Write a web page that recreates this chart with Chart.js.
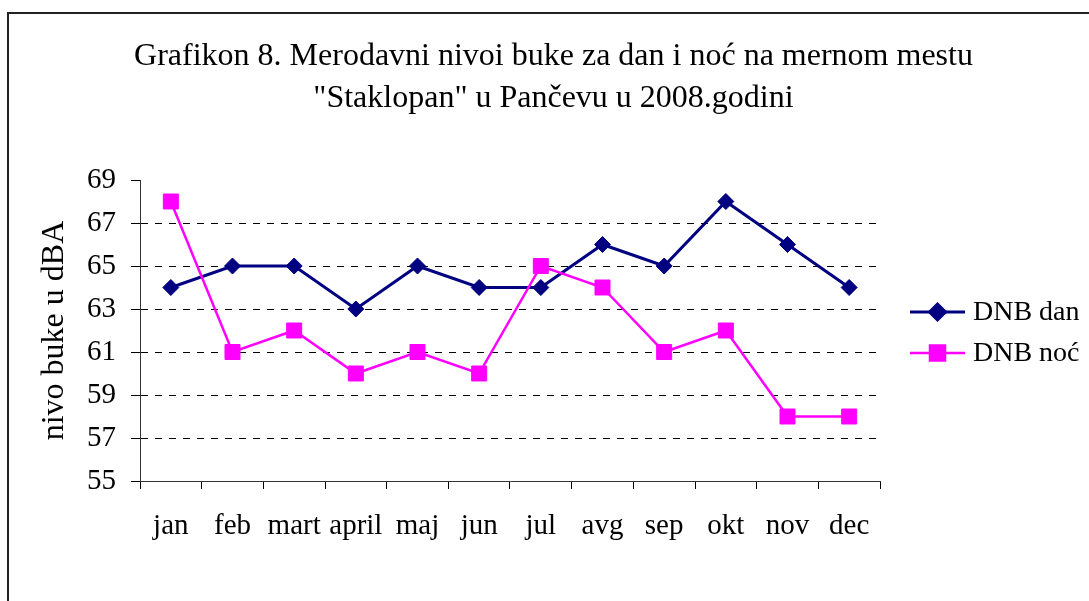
<!DOCTYPE html>
<html>
<head>
<meta charset="utf-8">
<script src="https://cdn.jsdelivr.net/npm/chart.js@4/dist/chart.umd.min.js"></script>
<style>
  html, body { margin: 0; padding: 0; background: #fff; }
  canvas { display: block; }
</style>
</head>
<body>
<canvas id="chart-canvas" width="1089" height="601"></canvas>
<script>
// data
const months = ['jan', 'feb', 'mart', 'april', 'maj', 'jun', 'jul', 'avg', 'sep', 'okt', 'nov', 'dec'];
const dnbDan = [64, 65, 65, 63, 65, 64, 64, 66, 65, 68, 66, 64];
const dnbNoc = [68, 61, 62, 60, 61, 60, 65, 64, 61, 62, 58, 58];
const titleLines = ['Grafikon 8. Merodavni nivoi buke za dan i noć na mernom mestu', '"Staklopan" u Pančevu u 2008.godini'];
const yTitle = 'nivo buke u dBA';
const yMin = 55, yMax = 69, yStep = 2;

const serif = 'Liberation Serif, Times New Roman, serif';
const navy = '#000080';
const magenta = '#FF00FF';

// outer frame, only top and left edges are visible in the picture
const framePlugin = {
    id: 'frame',
    beforeDraw(chart) {
        const ctx = chart.ctx;
        ctx.save();
        ctx.fillStyle = '#fff';
        ctx.fillRect(0, 0, chart.width, chart.height);
        ctx.strokeStyle = '#222';
        ctx.lineWidth = 2;
        ctx.beginPath();
        ctx.moveTo(8, chart.height + 2);
        ctx.lineTo(8, 13);
        ctx.lineTo(chart.width + 2, 13);
        ctx.stroke();
        ctx.restore();
    }
};

// legend with line + marker, like the office chart
const lineLegend = {
    id: 'lineLegend',
    afterDraw(chart) {
        const ctx = chart.ctx;
        const x0 = chart.chartArea.right + 30;
        const rows = [312, 353];
        ctx.save();
        ctx.font = '28px ' + serif;
        ctx.textBaseline = 'middle';
        ctx.fillStyle = '#000';
        [0, 1].forEach((i) => {
            const ds = chart.data.datasets[i];
            const y = rows[i];
            ctx.strokeStyle = ds.borderColor;
            ctx.lineWidth = ds.borderWidth;
            ctx.beginPath();
            ctx.moveTo(x0, y);
            ctx.lineTo(x0 + 55, y);
            ctx.stroke();
            Chart.helpers.drawPoint(ctx, {
                pointStyle: ds.pointStyle,
                radius: ds.pointRadius,
                borderWidth: 1
            }, x0 + 27.5, y);
            ctx.fillStyle = ds.borderColor;
            ctx.fill();
            ctx.fillStyle = '#000';
            ctx.fillText(ds.label, x0 + 63, y + 1);
        });
        ctx.restore();
    }
};

const myChart = new Chart(document.getElementById('chart-canvas'), {
    type: 'line',
    data: {
        labels: months,
        datasets: [{
            label: 'DNB dan',
            data: dnbDan,
            borderColor: navy,
            backgroundColor: navy,
            borderWidth: 3,
            pointStyle: 'rectRot',
            pointRadius: 8,
            pointBackgroundColor: navy,
            pointBorderColor: navy,
            pointBorderWidth: 1,
            tension: 0,
            order: 1,
            clip: false
        }, {
            label: 'DNB noć',
            data: dnbNoc,
            borderColor: magenta,
            backgroundColor: magenta,
            borderWidth: 2.5,
            pointStyle: 'rect',
            pointRadius: 10.6,
            pointBackgroundColor: magenta,
            pointBorderColor: magenta,
            pointBorderWidth: 1,
            tension: 0,
            order: 0,
            clip: false
        }]
    },
    options: {
        responsive: false,
        animation: false,
        layout: { padding: { left: 18, right: 0, top: 0, bottom: 0 } },
        plugins: {
            legend: { display: false },
            tooltip: { enabled: false },
            title: {
                display: true,
                text: titleLines,
                color: '#000',
                font: { family: serif, size: 32, weight: 'normal', lineHeight: '42px' },
                padding: { top: 36, bottom: 60 }
            }
        },
        scales: {
            x: {
                offset: true,
                grid: {
                    offset: true,
                    drawOnChartArea: false,
                    tickLength: 8,
                    tickColor: '#000',
                    color: '#000'
                },
                border: { display: true, color: '#333', width: 1 },
                ticks: {
                    color: '#000',
                    font: { family: serif, size: 29 },
                    padding: 20,
                    maxRotation: 0,
                    autoSkip: false
                },
                afterFit(scale) { scale.height = 120; }
            },
            y: {
                min: yMin,
                max: yMax,
                ticks: {
                    stepSize: yStep,
                    color: '#000',
                    font: { family: serif, size: 29 },
                    padding: 15
                },
                grid: {
                    color: (c) => (c.tick && (c.tick.value === yMin || c.tick.value === yMax)) ? 'rgba(0,0,0,0)' : '#000',
                    tickColor: '#000',
                    tickLength: 9,
                    lineWidth: 1
                },
                border: { display: true, color: '#333', width: 1, dash: [7, 7] },
                title: {
                    display: true,
                    text: yTitle,
                    color: '#000',
                    font: { family: serif, size: 32 },
                    padding: { top: 17, bottom: 0 }
                },
                afterFit(scale) { scale.width = 122; }
            },
            // empty box on the right that keeps room for the legend
            legendSpace: {
                type: 'linear',
                position: 'right',
                display: true,
                grid: { display: false },
                border: { display: false },
                ticks: { display: false },
                afterFit(scale) { scale.width = 209; }
            }
        }
    },
    plugins: [framePlugin, lineLegend]
});
</script>
</body>
</html>
